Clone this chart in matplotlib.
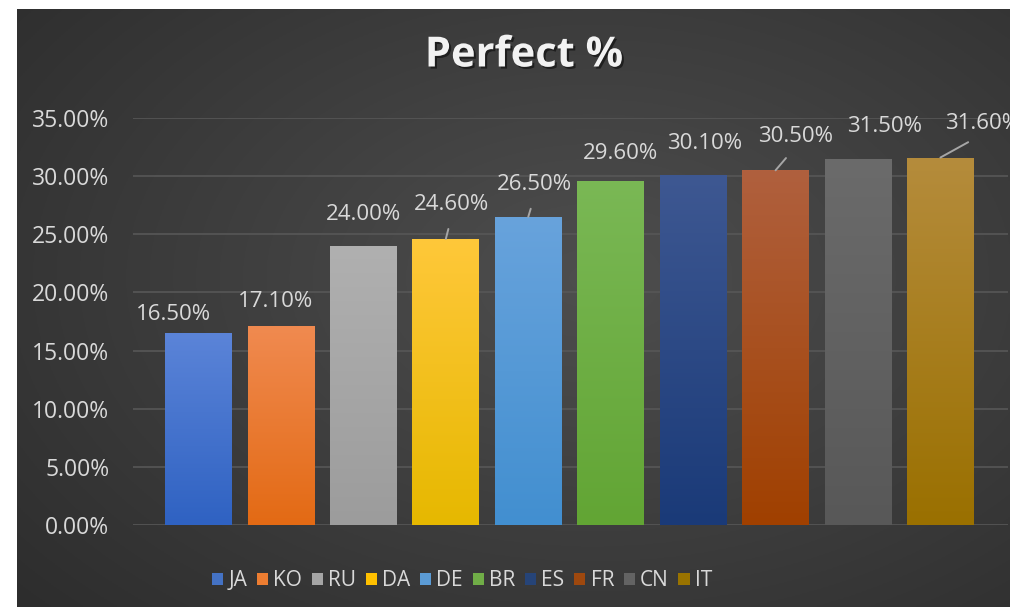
import numpy as np
import matplotlib
matplotlib.use('Agg')
import matplotlib.pyplot as plt
import matplotlib.patheffects as pe
from matplotlib.colors import LinearSegmentedColormap, to_rgb
from matplotlib.patches import Patch
from matplotlib.ticker import FuncFormatter


# data
languages = ['JA', 'KO', 'RU', 'DA', 'DE', 'BR', 'ES', 'FR', 'CN', 'IT']
perfect_pct = [16.5, 17.1, 24.0, 24.6, 26.5, 29.6, 30.1, 30.5, 31.5, 31.6]

# colours: (top, bottom) of each bar's gradient
top_colors = ['#5b84d8', '#f08a50', '#b0b0b0', '#ffc83a', '#68a3dc',
              '#7ab855', '#3e5892', '#b0603e', '#6b6b6b', '#b58c3c']
bottom_colors = ['#2f62c2', '#e36a14', '#9c9c9c', '#e6b800', '#428fd0',
                 '#62a534', '#1a3a78', '#a04000', '#585858', '#9a7000']
swatch_colors = ['#4472c4', '#ed7d31', '#a5a5a5', '#ffc000', '#5b9bd5',
                 '#70ad47', '#264478', '#9e480e', '#636363', '#997300']

# label offsets from bar top (pixels) and which labels get a leader line
label_dx = [-25, -5, 0, 6, 6.5, 9.5, 12, 20, 27, 42.5]
label_dy = [18.5, 25, 31, 34, 32, 27, 31.5, 34, 32, 34]
has_leader = [False, False, False, True, True, False, False, True, False, True]

W, H = 1010, 607
fig = plt.figure(figsize=(W / 100, H / 100), dpi=100)
fig.patch.set_facecolor('white')

# dark chart area with a soft radial gradient
bg = fig.add_axes([17 / W, 0, 1 - 17 / W, 1 - 9 / H])
bg.set_axis_off()
yy, xx = np.mgrid[0:1:300j, 0:1:500j]
r = np.sqrt(((xx - 0.58) / 0.8) ** 2 + ((yy - 0.55) / 0.85) ** 2)
r = np.clip(r, 0, 1)
c_in = np.array(to_rgb('#4e4e4e'))
c_out = np.array(to_rgb('#2c2c2c'))
img = c_in[None, None, :] * (1 - r[..., None]) + c_out[None, None, :] * r[..., None]
bg.imshow(img, extent=[0, 1, 0, 1], aspect='auto', origin='lower')
bg.set_xlim(0, 1)
bg.set_ylim(0, 1)

font = ['Open Sans', 'DejaVu Sans']
text_color = '#d9d9d9'

ax = fig.add_axes([133 / W, 82 / H, (1008 - 133) / W, (525 - 118) / H])
ax.patch.set_alpha(0)
x = np.arange(len(languages))
bar_w = 0.81
bars = ax.bar(x, perfect_pct, width=bar_w, color='none', zorder=3)

grad = np.linspace(0, 1, 256).reshape(-1, 1)
for b, top, bot in zip(bars, top_colors, bottom_colors):
    cmap = LinearSegmentedColormap.from_list('g', [bot, top])
    x0, y0 = b.get_x(), b.get_y()
    im = ax.imshow(grad, cmap=cmap, origin='lower', aspect='auto',
                   extent=[x0, x0 + b.get_width(), y0, y0 + b.get_height()],
                   zorder=3)
    im.set_clip_path(b)

ax.set_xlim(-0.795, 9.82)
ax.set_ylim(0, 35)
ax.set_yticks(np.arange(0, 36, 5))
ax.yaxis.set_major_formatter(FuncFormatter(lambda v, p: f'{v:.2f}%'))
ax.set_xticks([])
ax.grid(axis='y', color='#575757', lw=1.2, zorder=1)
for s in ax.spines.values():
    s.set_visible(False)
ax.tick_params(axis='y', length=0, pad=17, labelsize=16.5, labelcolor=text_color)
for t in ax.get_yticklabels():
    t.set_family(font)

# value labels
for i, v in enumerate(perfect_pct):
    arrow = None
    if has_leader[i]:
        arrow = dict(arrowstyle='-', color='#a6a6a6', lw=1.4,
                     relpos=(0.5, 0), shrinkA=8, shrinkB=0)
    ax.annotate(f'{v:.2f}%', xy=(i, v), xytext=(label_dx[i], label_dy[i]),
                textcoords='offset pixels', ha='center', va='center',
                fontsize=16, color=text_color, family=font,
                arrowprops=arrow, zorder=5, annotation_clip=False)

# title
fig.text(524 / W, 1 - 56 / H, 'Perfect %', ha='center', va='center',
         fontsize=30, fontweight='bold', color='#f2f2f2', family=font,
         path_effects=[pe.withSimplePatchShadow(offset=(1.5, -1.5),
                                                shadow_rgbFace='black',
                                                alpha=0.5)])

# legend
handles = [Patch(facecolor=c, edgecolor='none') for c in swatch_colors]
leg = fig.legend(handles, languages, loc='center', ncol=len(languages),
                 bbox_to_anchor=(462 / W, 1 - 581 / H), frameon=False,
                 handlelength=0.55, handleheight=0.55, handletextpad=0.25,
                 columnspacing=0.45, prop={'family': font, 'size': 15})
for t in leg.get_texts():
    t.set_color(text_color)

fig.savefig('out.png', dpi=100, facecolor='white')
